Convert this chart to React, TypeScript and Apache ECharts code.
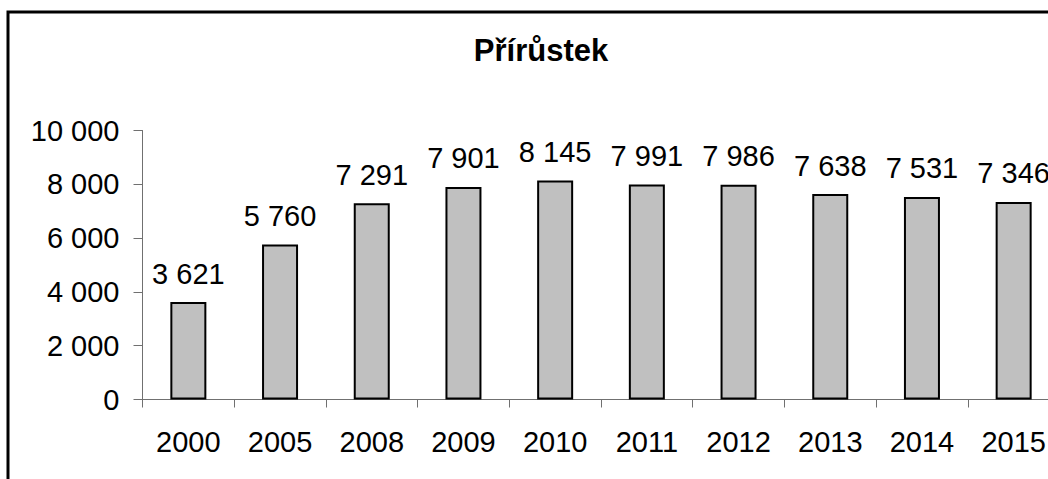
import React, { useEffect, useRef } from "react";
import * as echarts from "echarts";

const titleText = "Přírůstek";
const categories = ["2000", "2005", "2008", "2009", "2010", "2011", "2012", "2013", "2014", "2015"];
const values = [3621, 5760, 7291, 7901, 8145, 7991, 7986, 7638, 7531, 7346];
const yMin = 0;
const yMax = 10000;
const yInterval = 2000;

const fmt = (v: number) => String(Math.round(v)).replace(/\B(?=(\d{3})+(?!\d))/g, " ");

const FONT = "'Liberation Sans', Arial, Helvetica, sans-serif";

export default function App() {
  const ref = useRef<HTMLDivElement>(null);
  useEffect(() => {
    if (!ref.current) return;
    const chart = echarts.init(ref.current, undefined, { renderer: "svg" });
    chart.setOption({
      animation: false,
      backgroundColor: "#ffffff",
      textStyle: { fontFamily: FONT },
      title: {
        text: titleText,
        left: 536,
        top: 30,
        textAlign: "center",
        textStyle: { fontFamily: FONT, fontSize: 31, fontWeight: "bold", color: "#000" },
      },
      graphic: [
        {
          type: "rect",
          shape: { x: 8, y: 12, width: 1200, height: 700 },
          style: { fill: "none", stroke: "#000", lineWidth: 3 },
          silent: true,
          z: 100,
        },
      ],
      grid: { left: 142.5, top: 130.5, width: 917, height: 269, containLabel: false },
      xAxis: {
        type: "category",
        data: categories,
        boundaryGap: true,
        axisLine: { show: true, lineStyle: { color: "#707070", width: 1 } },
        axisTick: { show: true, alignWithLabel: false, length: 8, inside: false, lineStyle: { color: "#707070" } },
        axisLabel: { color: "#000", fontSize: 29, fontFamily: FONT, margin: 28, interval: 0 },
        splitLine: { show: false },
      },
      yAxis: {
        type: "value",
        min: yMin,
        max: yMax,
        interval: yInterval,
        axisLine: { show: true, lineStyle: { color: "#707070", width: 1 } },
        axisTick: { show: true, length: 9, inside: false, lineStyle: { color: "#707070" } },
        axisLabel: { color: "#000", fontSize: 29, fontFamily: FONT, margin: 23, formatter: (v: number) => fmt(v) },
        splitLine: { show: false },
      },
      series: [
        {
          type: "bar",
          data: values,
          barWidth: 36,
          itemStyle: { color: "#c0c0c0", borderColor: "#000", borderWidth: 2 },
          label: {
            show: true,
            position: "top",
            distance: 14,
            color: "#000",
            fontSize: 29,
            fontFamily: FONT,
            formatter: (p: any) => fmt(p.value),
          },
        },
      ],
    });
    return () => chart.dispose();
  }, []);
  return (
    <div style={{ position: "fixed", left: 0, top: 0, width: 1048, height: 479, overflow: "hidden", background: "#fff" }}>
      <div ref={ref} style={{ position: "absolute", left: 0, top: 0, width: 1120, height: 540 }} />
    </div>
  );
}
